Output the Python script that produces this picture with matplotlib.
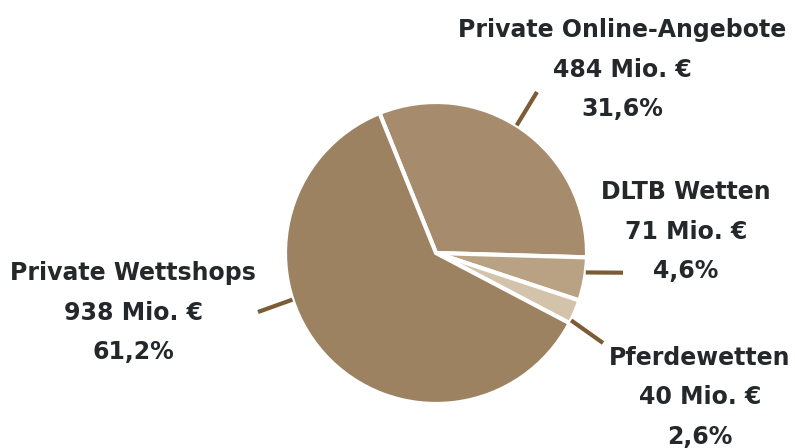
import numpy as np
import matplotlib
matplotlib.use("Agg")
import matplotlib.pyplot as plt

# data
labels = ["Private Online-Angebote", "DLTB Wetten", "Pferdewetten", "Private Wettshops"]
values = [484, 71, 40, 938]
colors = ["#a78b6d", "#b9a284", "#d3c3ab", "#9c8260"]

W, H = 795, 448
CX, CY, R = 436, 253, 151          # pie centre / radius in pixels (y from top)
LINE_COLOR = "#7b5c34"
TEXT_COLOR = "#25282b"

# label layout: connector start angle on rim, connector end (px), text centre x, first line y (px)
layout = [
    dict(ang=57.7, end=(537, 92), tx=622, ty=30),
    dict(ang=-7.4, end=(623, 272.7), tx=686, ty=192),
    dict(ang=-26.5, end=(603, 343), tx=700, ty=358),
    dict(ang=198.0, end=(258, 312), tx=133, ty=273),
]

plt.rcParams["font.family"] = ["DejaVu Sans"]

fig = plt.figure(figsize=(W / 100, H / 100), dpi=100)
ax = fig.add_axes([0, 0, 1, 1])

ax.pie(
    values,
    colors=colors,
    startangle=112.0,
    counterclock=False,
    center=(CX, H - CY),
    radius=R,
    wedgeprops=dict(edgecolor="white", linewidth=3),
)
ax.set_xlim(0, W)
ax.set_ylim(0, H)
ax.set_aspect("equal")
ax.axis("off")

total = sum(values)
for name, val, lay in zip(labels, values, layout):
    a = np.radians(lay["ang"])
    x0 = CX + R * np.cos(a)
    y0 = (H - CY) + R * np.sin(a)
    ex, ey = lay["end"]
    ax.plot([x0, ex], [y0, H - ey], color=LINE_COLOR, lw=3, solid_capstyle="butt")
    pct = f"{val / total * 100:.1f}".replace(".", ",")
    lines = [name, f"{val} Mio. €", f"{pct}%"]
    for k, s in enumerate(lines):
        ax.text(lay["tx"], H - (lay["ty"] + 39.5 * k), s, ha="center", va="center",
                fontsize=17, fontweight="bold", color=TEXT_COLOR)

fig.savefig("out.png", dpi=100)
